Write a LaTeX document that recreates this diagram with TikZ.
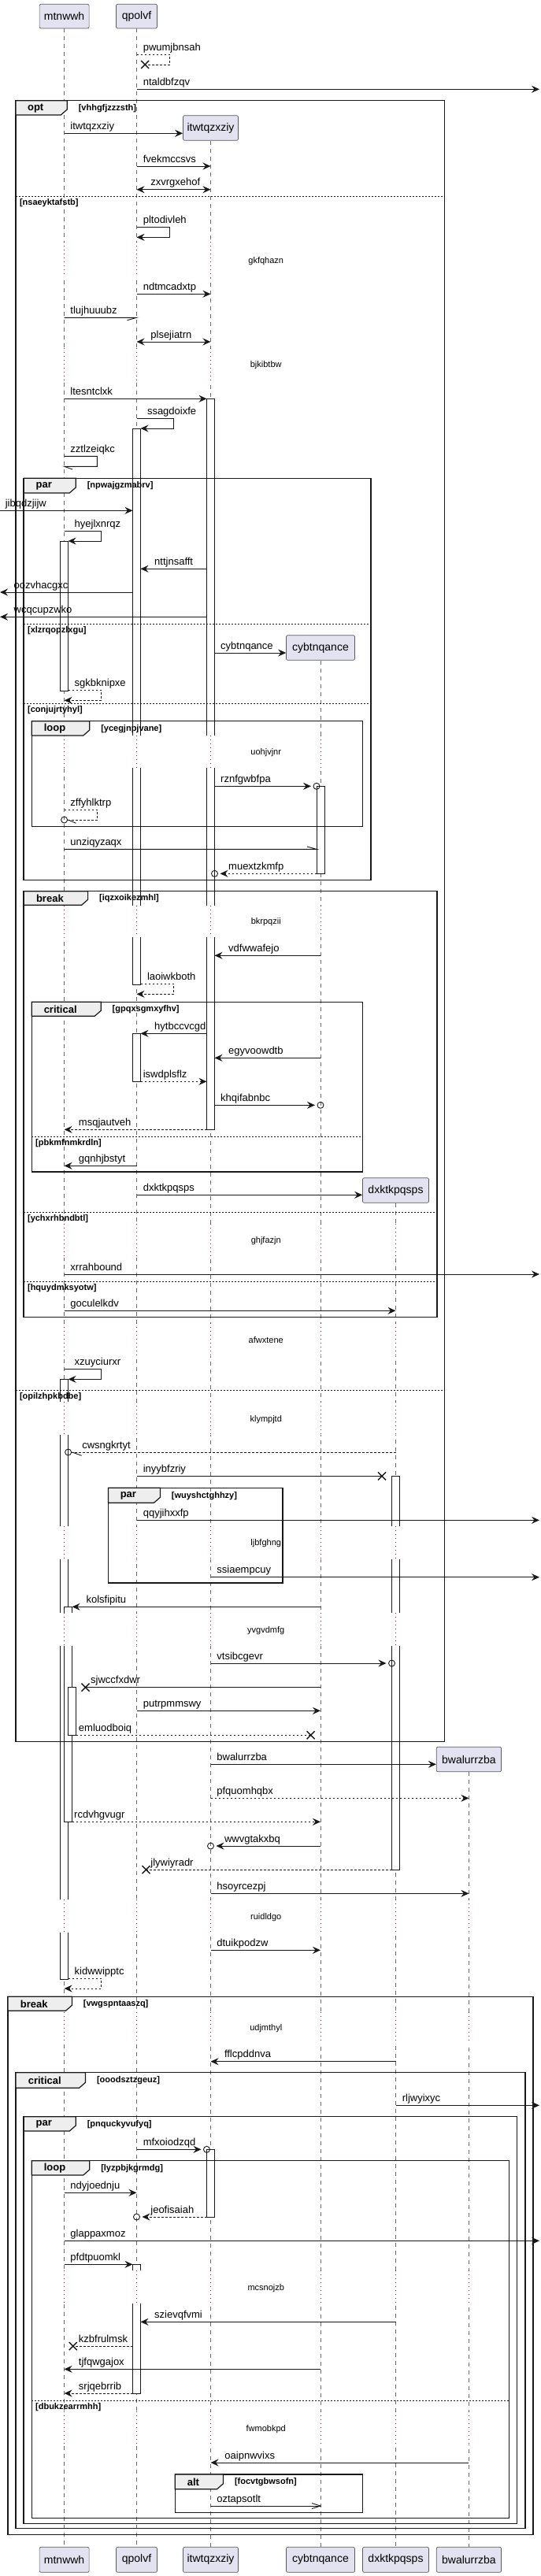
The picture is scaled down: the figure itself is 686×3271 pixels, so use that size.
\documentclass[tikz,border=0pt]{standalone}
\usepackage{fontspec}
\setmainfont{Liberation Sans}
\usetikzlibrary{arrows.meta}
\definecolor{pbox}{RGB}{226,226,240}
\definecolor{pbord}{RGB}{90,90,90}
\definecolor{tabf}{RGB}{238,238,238}
\definecolor{dlyc}{RGB}{168,0,54}
\definecolor{lc}{RGB}{24,24,24}
\newcounter{nn}
\tikzset{
  pbx/.style={draw=pbord, fill=pbox, rounded corners=2pt, line width=0.7pt, inner sep=0pt, font=\fontsize{14}{16}\selectfont},
  lifel/.style={draw=gray!85!black, line width=0.6pt, dash pattern=on 5pt off 5pt},
  dlyl/.style={draw=dlyc, line width=0.8pt, dash pattern=on 1pt off 4pt},
  mln/.style={draw=lc, line width=0.9pt},
  rln/.style={mln, dash pattern=on 2.5pt off 2.5pt},
  mtip/.style={-{Stealth[length=10pt,width=9pt,inset=3.5pt]}},
  btip/.style={{Stealth[length=10pt,width=9pt,inset=3.5pt]}-{Stealth[length=10pt,width=9pt,inset=3.5pt]}},
  lbl/.style={anchor=base west, inner sep=0pt, font=\fontsize{13}{15}\selectfont},
  dtext/.style={inner sep=0pt, font=\fontsize{11}{13}\selectfont},
  frml/.style={draw=lc, line width=1.5pt},
  tabl/.style={draw=lc, line width=1.2pt, fill=tabf},
  ftitle/.style={inner sep=0pt, font=\bfseries\fontsize{13}{15}\selectfont},
  grd/.style={anchor=west, inner sep=0pt, font=\bfseries\fontsize{11}{13}\selectfont},
  sepl/.style={draw=lc, line width=0.8pt, dash pattern=on 2pt off 2pt},
  actb/.style={draw=lc, fill=white, line width=0.8pt},
}
\newcommand\lab[3]{\stepcounter{nn}\node[lbl] (n\arabic{nn}) at (#1,{#2-5}) {#3};}
\newcommand\xh[2]{\draw[mln,line width=1.4pt] ({#1-5},{#2-5}) -- ({#1+5},{#2+5}) ({#1-5},{#2+5}) -- ({#1+5},{#2-5});}
\newcommand\crc[2]{\draw[mln] (#1,#2) circle (4pt);}
\newcommand\actv[3]{\filldraw[actb] (#1,#2) rectangle ({#1+10},#3);}
\newcommand\agap[5]{\fill[white] ({#1-1},#3) rectangle ({#2+1},#4); \draw[dlyl] (#5,#3) -- (#5,#4);}
\newcommand\frm[8]{%
  \draw[frml] (#1,#2) rectangle (#3,#4);
  \draw[tabl] (#1,#2) -- (#5,#2) -- (#5,{#6-7}) -- ({#5-8},#6) -- (#1,#6) -- cycle;
  \stepcounter{nn}\node[ftitle] (n\arabic{nn}) at ({(#1+#5)/2-7.5},{(#2+#6)/2+0.5}) {#7};
  \stepcounter{nn}\node[grd] (n\arabic{nn}) at ({#5+14.3},{(#2+#6)/2+0.5}) {#8};}
\newcommand\sepr[4]{\draw[sepl] (#1,#3) -- (#2,#3); \stepcounter{nn}\node[grd] (n\arabic{nn}) at ({#1+4.7},{#3+8}) {#4};}
\newcommand\dtx[2]{\stepcounter{nn}\node[dtext] (n\arabic{nn}) at (337.75,#1) {#2};}
\begin{document}
\begin{tikzpicture}[x=1pt,y=-1pt]
\useasboundingbox (0,0) rectangle (686,3271);
\fill[white] (0,0) rectangle (686,3271);
% participants
\node[pbx, minimum width=63pt, minimum height=30.7pt] (pA) at (81.6,20.65) {mtnwwh};
\node[pbx, minimum width=52pt, minimum height=30.7pt] (pB) at (173.5,20.65) {qpolvf};
\node[pbx, minimum width=70pt, minimum height=31.6pt] (pC) at (267.5,162.5) {itwtqzxziy};
\node[pbx, minimum width=87pt, minimum height=31.6pt] (pD) at (407,822.5) {cybtnqance};
\node[pbx, minimum width=84pt, minimum height=31.6pt] (pE) at (502.5,1511.5) {dxktkpqsps};
\node[pbx, minimum width=82.3pt, minimum height=31.6pt] (pF) at (595.4,2234) {bwalurrzba};
\node[pbx, minimum width=63pt, minimum height=32pt] (qA) at (81.6,3250.3) {mtnwwh};
\node[pbx, minimum width=52pt, minimum height=32pt] (qB) at (173.5,3250.3) {qpolvf};
\node[pbx, minimum width=70pt, minimum height=32pt] (qC) at (267.5,3250.3) {itwtqzxziy};
\node[pbx, minimum width=87pt, minimum height=32pt] (qD) at (407,3250.3) {cybtnqance};
\node[pbx, minimum width=84pt, minimum height=32pt] (qE) at (502.5,3250.3) {dxktkpqsps};
\node[pbx, minimum width=82.3pt, minimum height=32pt] (qF) at (595.4,3250.3) {bwalurrzba};
% lifelines
\draw[lifel] (pA.south) -- (qA.north);
\draw[lifel] (pB.south) -- (qB.north);
\draw[lifel] (pC.south) -- (qC.north);
\draw[lifel] (pD.south) -- (qD.north);
\draw[lifel] (pE.south) -- (qE.north);
\draw[lifel] (pF.south) -- (qF.north);
% delays on lifelines
\foreach \ya/\yb/\xs in {306.7/351.7/{81.6,173.5,267.5}, 442/484/{81.6,173.5,267.5},
  934/975/{81.6,173.5,267.5,407}, 1150/1190/{81.6,173.5,267.5,407},
  1554/1597/{81.6,173.5,267.5,407,502.5}, 1680/1722/{81.6,173.5,267.5,407,502.5},
  1780/1822/{81.6,173.5,267.5,407,502.5}, 1938/1980/{81.6,173.5,267.5,407,502.5},
  2048/2090/{81.6,173.5,267.5,407,502.5}, 2412/2454/{81.6,173.5,267.5,407,502.5,595.4},
  2555/2595/{81.6,173.5,267.5,407,502.5,595.4}, 2883/2925/{81.6,173.5,267.5,407,502.5,595.4},
  3062/3104/{81.6,173.5,267.5,407,502.5,595.4}} {
  \foreach \x in \xs {
    \fill[white] ({\x-1.5},\ya) rectangle ({\x+1.5},\yb);
    \draw[dlyl] (\x,\ya) -- (\x,\yb);
  }
}
\dtx{331.3}{gkfqhazn}
\dtx{463.3}{bjkibtbw}
\dtx{955.3}{uohjvjnr}
\dtx{1171}{bkrpqzii}
\dtx{1575.7}{ghjfazjn}
\dtx{1701.3}{afwxtene}
\dtx{1802.3}{klympjtd}
\dtx{1960}{ljbfghng}
\dtx{2070.7}{yvgvdmfg}
\dtx{2434.3}{ruidldgo}
\dtx{2575.3}{udjmthyl}
\dtx{2905.3}{mcsnojzb}
\dtx{3084.3}{fwmobkpd}
% activations
\actv{262.5}{506.3}{1434.3}
\agap{262.5}{272.5}{934}{975}{267.5}
\agap{262.5}{272.5}{1150}{1190}{267.5}
\actv{168.5}{544}{1250}
\agap{168.5}{178.5}{934}{975}{173.5}
\agap{168.5}{178.5}{1150}{1190}{173.5}
\actv{76.6}{687}{877}
\actv{402}{998.3}{1109.3}
\actv{168.5}{1312.3}{1373.3}
\actv{497.5}{1874.3}{2374}
\agap{497.5}{507.5}{1938}{1980}{502.5}
\agap{497.5}{507.5}{2048}{2090}{502.5}
\actv{76.6}{1751.3}{2513}
\actv{81.6}{2040.3}{2313.3}
\actv{86.6}{2142.7}{2203.3}
\agap{76.6}{86.6}{1780}{1822}{81.6}
\agap{76.6}{86.6}{1938}{1980}{81.6}
\agap{76.6}{91.6}{2048}{2090}{81.6}
\agap{76.6}{86.6}{2412}{2454}{81.6}
\actv{262.5}{2729.3}{2815}
\actv{168.5}{2875.3}{3039}
\agap{168.5}{178.5}{2883}{2925}{173.5}
% frames
\frm{20.1}{127.7}{564.4}{2211.7}{85.3}{146}{opt}{[vhhgfjzzzsth]}
\sepr{20.1}{564.4}{249.7}{[nsaeyktafstb]}
\sepr{20.1}{564.4}{1765.3}{[opilzhpkbdbe]}
\frm{30.2}{607.3}{470.75}{1117.3}{96.25}{626}{par}{[npwajgzmabrv]}
\sepr{30.2}{470.75}{792.3}{[xlzrqopzlxgu]}
\sepr{30.2}{470.75}{893.3}{[conjujrtyhyl]}
\frm{40.25}{915.7}{460.7}{1049.3}{113.75}{934}{loop}{[ycegjnpjvane]}
\frm{30.2}{1131.7}{554.75}{1672.3}{111.6}{1149.3}{break}{[iqzxoikezmhl]}
\sepr{30.2}{554.75}{1539.3}{[ychxrhbndbtl]}
\sepr{30.2}{554.75}{1627.3}{[hquydmksyotw]}
\frm{40.25}{1272.3}{460.7}{1488}{128.2}{1290.3}{critical}{[gpqxsgmxyfhv]}
\sepr{40.25}{460.7}{1443.3}{[pbkmfnmkrdln]}
\frm{137.4}{1889.3}{358.75}{2010}{203.4}{1908.3}{par}{[wuyshctghhzy]}
\frm{10}{2535.3}{676.8}{3218.7}{91.4}{2553.3}{break}{[vwgspntaaszq]}
\frm{20.1}{2631.7}{666.75}{3210.7}{108.5}{2651.3}{critical}{[ooodsztzgeuz]}
\frm{30.2}{2687.7}{656.7}{3204.3}{96.25}{2706}{par}{[pnquckyvufyq]}
\frm{40.25}{2743.7}{646.6}{3197.7}{113.75}{2762}{loop}{[lyzpbjkgrmdg]}
\sepr{40.25}{646.6}{3048.3}{[dbukzearrmhh]}
\frm{222.25}{3142}{460.7}{3190.3}{283.5}{3160.7}{alt}{[focvtgbwsofn]}
% messages
\draw[rln] (173.5,69.3) -- (215.7,69.3) -- (215.7,82) -- (184.2,82); \xh{184.2}{82} \lab{181.6}{69.3}{pwumjbnsah}
\draw[mln,mtip] (173.5,113.3) -- (685,113.3); \lab{181.6}{113.3}{ntaldbfzqv}
\draw[mln,mtip] (81.6,169.3) -- (pC.west |- 0,169.3); \lab{89.25}{169.3}{itwtqzxziy}
\draw[mln,mtip] (173.5,211) -- (267.5,211); \lab{181.6}{211}{fvekmccsvs}
\draw[mln,btip] (173.5,240.7) -- (267.5,240.7); \lab{191.2}{240.7}{zxvrgxehof}
\draw[mln,mtip] (173.5,288.3) -- (215.7,288.3) -- (215.7,301.3) -- (173.5,301.3); \lab{181.6}{288.3}{pltodivleh}
\draw[mln,mtip] (173.5,373.3) -- (267.5,373.3); \lab{181.6}{373.3}{ndtmcadxtp}
\draw[mln] (81.6,403.3) -- (173.5,403.3) -- ++(-12,3.4); \lab{89.25}{403.3}{tlujhuuubz}
\draw[mln,btip] (173.5,434) -- (267.5,434); \lab{191.2}{434}{plsejiatrn}
\draw[mln,mtip] (81.6,506.3) -- (262.5,506.3); \lab{89.25}{506.3}{ltesntclxk}
\draw[mln,mtip] (173.5,531.7) -- (220.5,531.7) -- (220.5,544) -- (178.5,544); \lab{186.8}{531.7}{ssagdoixfe}
\draw[mln] (81.6,579.3) -- (123.4,579.3) -- (123.4,592.3) -- (81.6,592.3) -- ++(10.5,3.7); \lab{89.25}{579.3}{zztlzeiqkc}
\draw[mln,mtip] (0,648.3) -- (168.5,648.3); \lab{6.6}{648.3}{jibqdzjijw}
\draw[mln,mtip] (81.6,674.3) -- (128.6,674.3) -- (128.6,687) -- (86.6,687); \lab{94.5}{674.3}{hyejlxnrqz}
\draw[mln,mtip] (262.5,722.3) -- (178.5,722.3); \lab{196}{722.3}{nttjnsafft}
\draw[mln,mtip] (168.5,752) -- (0,752); \lab{17.5}{752}{oozvhacgxc}
\draw[mln,mtip] (262.5,783.3) -- (0,783.3); \lab{17.5}{783.3}{wcqcupzwko}
\draw[mln,mtip] (272.5,829) -- (pD.west |- 0,829); \lab{280}{829}{cybtnqance}
\draw[rln,mtip] (86.6,876.3) -- (128.6,876.3) -- (128.6,889.3) -- (81.6,889.3); \lab{94.5}{876.3}{sgkbknipxe}
\draw[mln,mtip] (272.5,998.3) -- (395,998.3); \crc{402}{998.3} \lab{280}{998.3}{rznfgwbfpa}
\draw[rln] (81.6,1028.3) -- (123.8,1028.3) -- (123.8,1041) -- (85.6,1041); \crc{81.6}{1041} \draw[mln] (86.6,1041) -- (96.5,1045.3); \lab{89.25}{1028.3}{zffyhlktrp}
\draw[mln] (81.6,1078.3) -- (402,1078.3) -- ++(-12,-3.3); \lab{89.25}{1078.3}{unziqyzaqx}
\draw[rln,mtip] (402,1109.3) -- (279.5,1109.3); \crc{272.5}{1109.3} \lab{290}{1109.3}{muextzkmfp}
\draw[mln,mtip] (407,1213.3) -- (272.5,1213.3); \lab{290}{1213.3}{vdfwwafejo}
\draw[rln,mtip] (178.5,1249.3) -- (220.5,1249.3) -- (220.5,1262.3) -- (173.5,1262.3); \lab{186.8}{1249.3}{laoiwkboth}
\draw[mln,mtip] (262.5,1312.3) -- (178.5,1312.3); \lab{196}{1312.3}{hytbccvcgd}
\draw[mln,mtip] (407,1343.3) -- (272.5,1343.3); \lab{290}{1343.3}{egyvoowdtb}
\draw[rln,mtip] (178.5,1373.3) -- (262.5,1373.3); \lab{181.6}{1373.3}{iswdplsflz}
\draw[mln,mtip] (272.5,1403.3) -- (400,1403.3); \crc{407}{1403.3} \lab{280}{1403.3}{khqifabnbc}
\draw[rln,mtip] (262.5,1434.3) -- (81.6,1434.3); \lab{99.75}{1434.3}{msqjautveh}
\draw[mln,mtip] (173.5,1480.3) -- (81.6,1480.3); \lab{99.75}{1480.3}{gqnhjbstyt}
\draw[mln,mtip] (173.5,1517.3) -- (pE.west |- 0,1517.3); \lab{181.6}{1517.3}{dxktkpqsps}
\draw[mln,mtip] (81.6,1618) -- (685,1618); \lab{89.25}{1618}{xrrahbound}
\draw[mln,mtip] (81.6,1664.3) -- (502.5,1664.3); \lab{89.25}{1664.3}{goculelkdv}
\draw[mln,mtip] (81.6,1738.3) -- (128.6,1738.3) -- (128.6,1751.3) -- (86.6,1751.3); \lab{94.5}{1738.3}{xzuyciurxr}
\draw[rln] (502.5,1844) -- (90.6,1844); \crc{86.6}{1844} \draw[mln] (91.6,1844) -- (103.7,1848.3); \lab{104.1}{1844}{cwsngkrtyt}
\draw[mln] (173.5,1874.3) -- (485,1874.3); \xh{485}{1874.3} \lab{181.6}{1874.3}{inyybfzriy}
\draw[mln,mtip] (173.5,1930.3) -- (685,1930.3); \lab{181.6}{1930.3}{qqyjihxxfp}
\draw[mln,mtip] (267.5,2002.7) -- (685,2002.7); \lab{275.2}{2002.7}{ssiaempcuy}
\draw[mln,mtip] (407,2040.3) -- (91.6,2040.3); \lab{109.4}{2040.3}{kolsfipitu}
\draw[mln,mtip] (267.5,2112) -- (490.5,2112); \crc{497.5}{2112} \lab{275.2}{2112}{vtsibcgevr}
\draw[mln] (407,2142.7) -- (108.5,2142.7); \xh{108.5}{2142.7} \lab{115}{2142.7}{sjwccfxdwr}
\draw[mln,mtip] (173.5,2172.3) -- (407,2172.3); \lab{181.6}{2172.3}{putrpmmswy}
\draw[rln] (96.6,2203.3) -- (394.6,2203.3); \xh{394.6}{2203.3} \lab{99.75}{2203.3}{emluodboiq}
\draw[mln,mtip] (267.5,2240.3) -- (pF.west |- 0,2240.3); \lab{275.2}{2240.3}{bwalurrzba}
\draw[rln,mtip] (267.5,2283.3) -- (595.4,2283.3); \lab{275.2}{2283.3}{pfquomhqbx}
\draw[rln,mtip] (91.6,2313.3) -- (407,2313.3); \lab{94}{2313.3}{rcdvhgvugr}
\draw[mln,mtip] (407,2344) -- (274.5,2344); \crc{267.5}{2344} \lab{284.8}{2344}{wwvgtakxbq}
\draw[rln] (497.5,2374) -- (185.5,2374); \xh{185.5}{2374} \lab{191.2}{2374}{jlywiyradr}
\draw[mln,mtip] (267.5,2404.3) -- (595.4,2404.3); \lab{275.2}{2404.3}{hsoyrcezpj}
\draw[mln,mtip] (267.5,2476.3) -- (407,2476.3); \lab{275.2}{2476.3}{dtuikpodzw}
\draw[rln,mtip] (86.6,2512.3) -- (128.6,2512.3) -- (128.6,2525) -- (81.6,2525); \lab{94.5}{2512.3}{kidwwipptc}
\draw[mln,mtip] (502.5,2617.7) -- (267.5,2617.7); \lab{284.8}{2617.7}{fflcpddnva}
\draw[mln,mtip] (502.5,2673.3) -- (685,2673.3); \lab{510.6}{2673.3}{rljwyixyc}
\draw[mln,mtip] (173.5,2729.3) -- (255.5,2729.3); \crc{262.5}{2729.3} \lab{181.6}{2729.3}{mfxoiodzqd}
\draw[mln,mtip] (81.6,2784.3) -- (173.5,2784.3); \lab{89.25}{2784.3}{ndyjoednju}
\draw[rln,mtip] (262.5,2815) -- (180.5,2815); \crc{173.5}{2815} \lab{191.2}{2815}{jeofisaiah}
\draw[mln,mtip] (81.6,2845.3) -- (685,2845.3); \lab{89.25}{2845.3}{glappaxmoz}
\draw[mln,mtip] (81.6,2875.3) -- (168.5,2875.3); \lab{89.25}{2875.3}{pfdtpuomkl}
\draw[mln,mtip] (502.5,2948.3) -- (178.5,2948.3); \lab{196}{2948.3}{szievqfvmi}
\draw[rln] (168.5,2979) -- (92.75,2979); \xh{92.75}{2979} \lab{99.75}{2979}{kzbfrulmsk}
\draw[mln,mtip] (407,3008.3) -- (81.6,3008.3); \lab{99.75}{3008.3}{tjfqwgajox}
\draw[rln,mtip] (168.5,3039) -- (81.6,3039); \lab{99.75}{3039}{srjqebrrib}
\draw[mln,mtip] (595.4,3127) -- (267.5,3127); \lab{285.25}{3127}{oaipnwvixs}
\draw[mln] (267.5,3182) -- (407,3182); \draw[mln] (396,3178.5) -- (407,3182) -- (396,3185.5); \lab{275.2}{3182}{oztapsotlt}
\end{tikzpicture}
\end{document}
